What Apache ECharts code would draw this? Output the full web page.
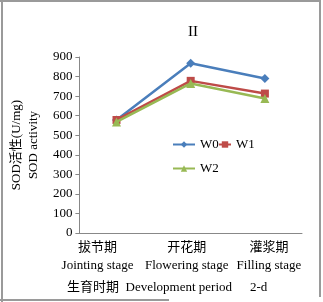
<!DOCTYPE html>
<html>
<head>
<meta charset="utf-8">
<script src="https://cdn.jsdelivr.net/npm/echarts@6/dist/echarts.min.js"></script>
<style>
  html, body { margin: 0; padding: 0; background: #fff; }
  #chart { width: 323px; height: 302px; }
</style>
</head>
<body>
<div id="chart"></div>
<script>
// 生育时期
const stagesCn = ['拔节期', '开花期', '灌浆期']
const stagesEn = ['Jointing stage', 'Flowering stage', 'Filling stage']
const w0 = [578, 868, 790]
const w1 = [578, 778, 713]
const w2 = [568, 765, 688]
const yTicks = { min: 0, max: 900, interval: 100 }

const FONT = '"Liberation Serif", "Noto Sans CJK SC", serif'
const frameColor = '#9a9a9a'

const chart = echarts.init(document.getElementById('chart'))

const mkSeries = (name, data, color, symbol, size) => ({
  name,
  type: 'line',
  data,
  symbol,
  symbolSize: size,
  lineStyle: { width: 2.5, color },
  itemStyle: { color },
  z: name === 'W0' ? 3 : name === 'W1' ? 4 : 5,
})

const legendText = { fontFamily: FONT, fontSize: 13, color: '#000' }
const mkLegend = (name, left, top, w) => ({
  data: [name],
  left,
  top,
  padding: 0,
  itemWidth: w,
  itemHeight: 8,
  textStyle: legendText,
})

// Excel 风格：标签太宽时左右挤开
const labelStyle = (pad) => ({ fontFamily: FONT, fontSize: 13, color: '#000', lineHeight: 18, padding: pad })

chart.setOption({
  animation: false,
  backgroundColor: '#fff',
  title: {
    text: 'II',
    left: 183,
    top: 20,
    textStyle: { fontFamily: FONT, fontSize: 15, fontWeight: 'normal', color: '#000' },
  },
  legend: [
    mkLegend('W0', 172, 138, 22),
    mkLegend('W1', 218, 138, 12),
    mkLegend('W2', 172, 162, 22),
  ],
  grid: { left: 77, right: 21, top: 57, bottom: 69 },
  xAxis: {
    type: 'category',
    data: stagesCn,
    axisLine: { lineStyle: { color: '#888', width: 1 } },
    axisTick: { show: false },
    axisLabel: {
      interval: 0,
      margin: 6,
      formatter: (v, i) => {
        const k = ['a', 'b', 'c'][i]
        return '{' + k + '|' + v + '}\n{' + k + '|' + stagesEn[i] + '}'
      },
      rich: {
        a: labelStyle([0, 38, 0, 0]),
        b: labelStyle([0, 8, 0, 0]),
        c: labelStyle([0, 0, 0, 8]),
      },
    },
  },
  yAxis: {
    type: 'value',
    min: yTicks.min,
    max: yTicks.max,
    interval: yTicks.interval,
    name: 'SOD活性(U/mg)\nSOD activity',
    nameLocation: 'middle',
    nameGap: 34,
    nameRotate: 90,
    nameTextStyle: { fontFamily: FONT, fontSize: 13, color: '#000', lineHeight: 17 },
    axisLine: { show: true, lineStyle: { color: '#888', width: 1 } },
    axisTick: { show: true, length: 4, lineStyle: { color: '#888' } },
    splitLine: { show: false },
    axisLabel: { fontFamily: FONT, fontSize: 13, color: '#000', margin: 7 },
  },
  series: [
    mkSeries('W0', w0, '#4a7ebb', 'diamond', 9),
    mkSeries('W1', w1, '#be4b48', 'rect', 8),
    mkSeries('W2', w2, '#98b954', 'triangle', 9),
  ],
  graphic: [
    {
      type: 'text',
      left: 67,
      top: 281,
      style: { text: '生育时期  Development period', font: '13px ' + FONT, fill: '#000' },
    },
    {
      type: 'text',
      left: 250,
      top: 281,
      style: { text: '2-d', font: '13px ' + FONT, fill: '#000' },
    },
    { type: 'line', shape: { x1: 0, y1: 1, x2: 321, y2: 1 }, style: { stroke: frameColor, lineWidth: 2 } },
    { type: 'line', shape: { x1: 2, y1: 0, x2: 2, y2: 302 }, style: { stroke: frameColor, lineWidth: 2 } },
    { type: 'line', shape: { x1: 320, y1: 0, x2: 320, y2: 297 }, style: { stroke: frameColor, lineWidth: 2 } },
    { type: 'line', shape: { x1: 0, y1: 300, x2: 169, y2: 300 }, style: { stroke: frameColor, lineWidth: 2 } },
  ],
})
</script>
</body>
</html>
